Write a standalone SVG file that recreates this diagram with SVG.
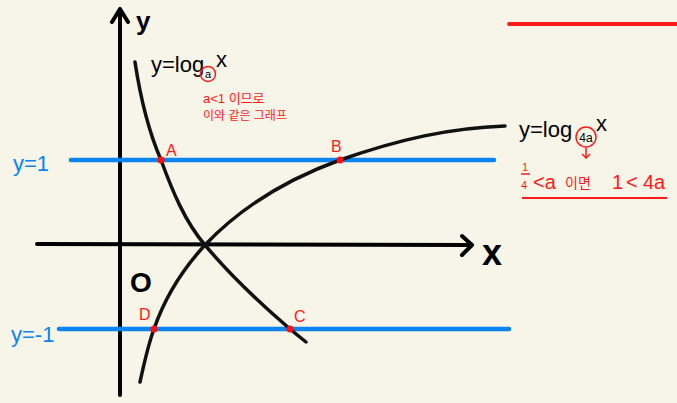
<svg xmlns="http://www.w3.org/2000/svg" width="677" height="403" viewBox="0 0 677 403">
<defs>
<style>
.ax{stroke:#000;stroke-width:4;fill:none;stroke-linecap:round;stroke-linejoin:round}
.cv{stroke:#111;stroke-width:3.5;fill:none;stroke-linecap:round}
.bl{stroke:#0a84f0;stroke-width:4.5;stroke-linecap:round}
.dot{fill:#ff1010}
.red{fill:#ff1a1a;font-family:"Liberation Sans","Noto Sans CJK KR",sans-serif}
.blk{fill:#000;font-family:"Liberation Sans","Noto Sans CJK KR",sans-serif}
.blu{fill:#0a84f0;font-family:"Liberation Sans",sans-serif}
</style>
</defs>
<rect width="677" height="403" fill="#f7f4e8"/>
<g id="connectors">
<path id="y-axis" class="ax" d="M120,395 L120,9 M112,22 L120,9 L128,22"/>
<path id="x-axis" class="ax" d="M37,244 L472,245 M462,236 L472,245 L462,255"/>
<line id="line-y1" class="bl" x1="71" y1="160" x2="494" y2="160"/>
<line id="line-ym1" class="bl" x1="59" y1="329" x2="509" y2="329"/>
<path id="curve-dec" class="cv" d="M135,62 C140,95 148,130 161,160 C172,190 185,222 205,245 C230,275 262,305 290,329 C296,334 301,338 306,342"/>
<path id="curve-inc" class="cv" d="M140,382 C144,364 148,345 154,329 C164,300 182,270 205,245 C240,208 285,180 340,160 C400,139 450,128 505,126"/>
</g>
<g id="axis-labels">
<text class="blk" x="136" y="30" font-size="26" font-weight="bold">y</text>
<text class="blk" x="482" y="265" font-size="36" font-weight="bold">x</text>
<text class="blk" x="130" y="292" font-size="28" font-weight="bold">O</text>
<text class="blu" x="13" y="171" font-size="22">y=1</text>
<text class="blu" x="11" y="342" font-size="22">y=-1</text>
</g>
<g id="point-A"><circle class="dot" cx="161" cy="160" r="3.5"/><text class="red" x="166" y="156" font-size="16">A</text></g>
<g id="point-B"><circle class="dot" cx="340" cy="160" r="3.5"/><text class="red" x="331" y="152" font-size="16">B</text></g>
<g id="point-C"><circle class="dot" cx="290" cy="329" r="3.5"/><text class="red" x="294" y="322" font-size="16">C</text></g>
<g id="point-D"><circle class="dot" cx="154" cy="329" r="3.5"/><text class="red" x="139" y="320" font-size="16">D</text></g>
<g id="label-loga">
<text class="blk" x="151" y="72" font-size="22">y=log</text>
<circle cx="208" cy="74" r="7.5" fill="none" stroke="#ff1a1a" stroke-width="1.5"/>
<text class="blk" x="208" y="78" font-size="11" text-anchor="middle">a</text>
<text class="blk" x="216" y="67" font-size="22">x</text>
<text class="red" x="203" y="103" font-size="13">a&lt;1 이므로</text>
<text class="red" x="203" y="120" font-size="12">이와 같은 그래프</text>
</g>
<g id="label-log4a">
<text class="blk" x="519" y="137" font-size="22">y=log</text>
<circle cx="586" cy="137" r="10" fill="none" stroke="#ff1a1a" stroke-width="1.5"/>
<text class="blk" x="586" y="142" font-size="12" text-anchor="middle">4a</text>
<text class="blk" x="596" y="131" font-size="22">x</text>
<path d="M586,148 L586,158 M582,154 L586,158 L590,154" stroke="#ff1a1a" stroke-width="1.5" fill="none"/>
<text class="red" x="522" y="171" font-size="11">1</text>
<line x1="521" y1="174" x2="530" y2="174" stroke="#ff1a1a" stroke-width="1.5"/>
<text class="red" x="521" y="189" font-size="11">4</text>
<text class="red" x="533" y="189" font-size="20">&lt;a</text>
<text class="red" x="565" y="188" font-size="14">이면</text>
<text class="red" x="612" y="189" font-size="20">1</text>
<text class="red" x="626" y="189" font-size="20">&lt;</text>
<text class="red" x="643" y="189" font-size="20">4a</text>
<line x1="522" y1="198" x2="667" y2="198" stroke="#ff1a1a" stroke-width="2"/>
</g>
<g id="title-underline">
<line x1="509" y1="24" x2="677" y2="24" stroke="#ff1a1a" stroke-width="4" stroke-linecap="round"/>
</g>
</svg>
